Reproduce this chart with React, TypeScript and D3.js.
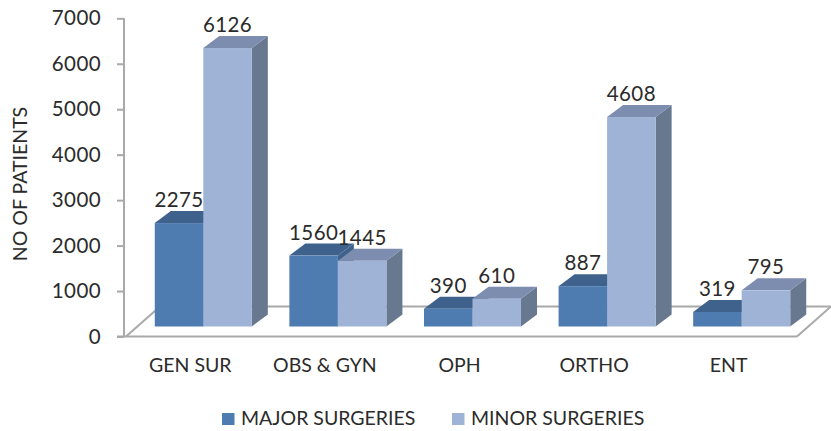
import * as d3 from "d3";
import React, { useEffect, useRef } from "react";

const categories = ["GEN SUR", "OBS & GYN", "OPH", "ORTHO", "ENT"];
const seriesNames = ["MAJOR SURGERIES", "MINOR SURGERIES"];
const majorValues = [2275, 1560, 390, 887, 319];
const minorValues = [6126, 1445, 610, 4608, 795];
const yTicks = [0, 1000, 2000, 3000, 4000, 5000, 6000, 7000];

const width = 831;
const height = 431;
const font = "Lato, 'Noto Sans', sans-serif";
const axisColor = "#a9a9a9";
const textColor = "#2b2b2b";
const numberSize = 20.5;
const labelSize = 19.5;

// depth of the fake 3d bars and of the floor, in pixels
const depthX = 16;
const depthY = 12;
const floorX = 34;
const floorY = 30;

const colors = [
  { front: "#4f7cb0", top: "#3f628c", side: "#3f628c" },
  { front: "#9fb3d6", top: "#7d8daf", side: "#68788f" },
];

export default function App() {
  const svgRef = useRef<SVGSVGElement>(null);

  useEffect(() => {
    if (!svgRef.current) {
      return;
    }
    const svg = d3.select(svgRef.current);
    svg.selectAll("*").remove();

    const y = d3.scaleLinear().domain([0, 7000]).range([336.5, 18.3]);
    const x0 = d3.scaleBand<string>().domain(categories).range([136, 809]).paddingInner(0.279).paddingOuter(0.1395);
    const x1 = d3.scaleBand<number>().domain([0, 1]).range([0, x0.bandwidth()]);
    const axisLeft = 124;
    const axisRight = 797;
    const baseY = y(0);
    // bars stand on the middle of the floor, not on the front edge
    const barBase = baseY - 10;
    const barY = (v: number) => y(v) - 10;

    // floor
    svg
      .append("path")
      .attr("d", `M${axisLeft + 2},${baseY}L${axisLeft + floorX + 2},${baseY - floorY}H${width}`)
      .attr("fill", "none")
      .attr("stroke", axisColor)
      .attr("stroke-width", 2);
    svg
      .append("path")
      .attr("d", `M${axisRight},${baseY}L${axisRight + floorX},${baseY - floorY}`)
      .attr("fill", "none")
      .attr("stroke", axisColor)
      .attr("stroke-width", 2);
    svg
      .append("line")
      .attr("x1", 117)
      .attr("x2", axisRight)
      .attr("y1", baseY)
      .attr("y2", baseY)
      .attr("stroke", axisColor)
      .attr("stroke-width", 2);

    // y axis
    const yAxis = d3
      .axisLeft<number>(y)
      .tickValues(yTicks)
      .tickSize(7)
      .tickPadding(16)
      .tickFormat((d) => String(d));
    svg
      .append("g")
      .attr("transform", `translate(${axisLeft},0)`)
      .call(yAxis)
      .call((g) => {
        g.select(".domain").attr("stroke", axisColor).attr("stroke-width", 2).attr("d", `M0,${y(7000)}V${baseY}`);
        g.selectAll(".tick line").attr("stroke", axisColor).attr("stroke-width", 2);
        g.selectAll(".tick text")
          .attr("fill", textColor)
          .attr("font-family", font)
          .attr("font-size", numberSize)
          .attr("letter-spacing", 0.4);
      });

    svg
      .append("text")
      .attr("transform", "translate(27,184) rotate(-90)")
      .attr("text-anchor", "middle")
      .attr("fill", textColor)
      .attr("font-family", font)
      .attr("font-size", labelSize)
      .text("NO OF PATIENTS");

    // bars
    categories.forEach((cat, i) => {
      [majorValues[i], minorValues[i]].forEach((v, s) => {
        const left = (x0(cat) ?? 0) + (x1(s) ?? 0);
        const right = left + x1.bandwidth();
        const top = barY(v);
        const c = colors[s];
        const g = svg.append("g");
        g.append("path")
          .attr("d", `M${right},${top}l${depthX},${-depthY}V${barBase - depthY}L${right},${barBase}Z`)
          .attr("fill", c.side);
        g.append("path")
          .attr("d", `M${left},${top}l${depthX},${-depthY}H${right + depthX}L${right},${top}Z`)
          .attr("fill", c.top);
        g.append("rect")
          .attr("x", left)
          .attr("y", top)
          .attr("width", x1.bandwidth())
          .attr("height", barBase - top)
          .attr("fill", c.front);
      });
    });

    // value labels on top of everything
    categories.forEach((cat, i) => {
      [majorValues[i], minorValues[i]].forEach((v, s) => {
        svg
          .append("text")
          .attr("x", (x0(cat) ?? 0) + (x1(s) ?? 0) + x1.bandwidth() / 2)
          .attr("y", barY(v) - 16)
          .attr("text-anchor", "middle")
          .attr("fill", textColor)
          .attr("font-family", font)
          .attr("font-size", numberSize)
          .attr("letter-spacing", 0.4)
          .text(v);
      });
      svg
        .append("text")
        .attr("x", (x0(cat) ?? 0) + x0.bandwidth() / 2 - 13)
        .attr("y", 372)
        .attr("text-anchor", "middle")
        .attr("fill", textColor)
        .attr("font-family", font)
        .attr("font-size", labelSize)
        .text(cat);
    });

    // legend
    const legendX = [222, 452];
    seriesNames.forEach((name, s) => {
      svg
        .append("rect")
        .attr("x", legendX[s])
        .attr("y", 413)
        .attr("width", 12.5)
        .attr("height", 12)
        .attr("fill", colors[s].front);
      svg
        .append("text")
        .attr("x", legendX[s] + 19)
        .attr("y", 425)
        .attr("fill", textColor)
        .attr("font-family", font)
        .attr("font-size", labelSize)
        .text(name);
    });
  }, []);

  return (
    <svg
      ref={svgRef}
      width={width}
      height={height}
      viewBox={`0 0 ${width} ${height}`}
      style={{ position: "absolute", left: 0, top: 0, background: "#fff" }}
    />
  );
}
